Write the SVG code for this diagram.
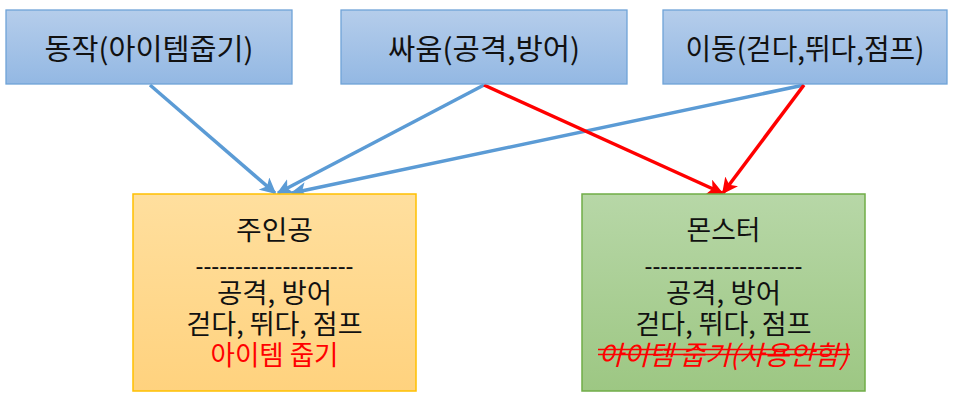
<svg xmlns="http://www.w3.org/2000/svg" width="954" height="403" viewBox="0 0 954 403">
  <defs>
    <linearGradient id="gBlue" x1="0" y1="0" x2="0" y2="1">
      <stop offset="0" stop-color="#b5cdeb"/>
      <stop offset="1" stop-color="#93b8e3"/>
    </linearGradient>
    <linearGradient id="gYellow" x1="0" y1="0" x2="0" y2="1">
      <stop offset="0" stop-color="#ffdf9e"/>
      <stop offset="1" stop-color="#ffd27e"/>
    </linearGradient>
    <linearGradient id="gGreen" x1="0" y1="0" x2="0" y2="1">
      <stop offset="0" stop-color="#b7d7a7"/>
      <stop offset="1" stop-color="#9dc783"/>
    </linearGradient>
    <marker id="arrBlue" viewBox="0 0 10 10" refX="9" refY="5" markerWidth="4.6" markerHeight="4.6" orient="auto" markerUnits="strokeWidth">
      <path d="M0,0 L10,5 L0,10 L2.5,5 Z" fill="#5b9bd5"/>
    </marker>
    <marker id="arrRed" viewBox="0 0 10 10" refX="9" refY="5" markerWidth="4.6" markerHeight="4.6" orient="auto" markerUnits="strokeWidth">
      <path d="M0,0 L10,5 L0,10 L2.5,5 Z" fill="#ff0000"/>
    </marker>
  </defs>
  <style>
    text { font-family: "Noto Sans CJK KR", "Noto Sans", sans-serif; fill: #111; text-anchor: middle; dominant-baseline: central; }
    .top { fill: url(#gBlue); stroke: #6fa3d8; stroke-width: 1.3; }
    .hero { fill: url(#gYellow); stroke: #ffc000; stroke-width: 1.5; }
    .mob { fill: url(#gGreen); stroke: #70ad47; stroke-width: 1.5; }
    .lbl { font-size: 29px; }
    .body { font-size: 27px; }
    .red { fill: #ff0000; }
    .blue { stroke: #5b9bd5; stroke-width: 3.5; fill: none; marker-end: url(#arrBlue); }
    .redl { stroke: #ff0000; stroke-width: 3.5; fill: none; marker-end: url(#arrRed); }
    .strike { stroke: #ff0000; stroke-width: 1.5; }
  </style>

  <g id="connectors">
    <line class="blue" x1="150" y1="85" x2="275" y2="193"/>
    <line class="blue" x1="484" y1="85" x2="278" y2="193"/>
    <line class="blue" x1="804" y1="85" x2="292" y2="193"/>
    <line class="redl" x1="484" y1="85" x2="722" y2="193"/>
    <line class="redl" x1="804" y1="85" x2="723" y2="193"/>
  </g>

  <g id="node-action">
    <rect class="top" x="6" y="10" width="286" height="74"/>
    <text class="lbl" x="149" y="47" textLength="209" lengthAdjust="spacingAndGlyphs">동작(아이템줍기)</text>
  </g>

  <g id="node-fight">
    <rect class="top" x="341" y="10" width="286" height="74"/>
    <text class="lbl" x="484" y="47" textLength="192" lengthAdjust="spacingAndGlyphs">싸움(공격,방어)</text>
  </g>

  <g id="node-move">
    <rect class="top" x="663" y="10" width="284" height="74"/>
    <text class="lbl" x="805" y="47" textLength="239" lengthAdjust="spacingAndGlyphs">이동(걷다,뛰다,점프)</text>
  </g>

  <g id="node-hero">
    <rect class="hero" x="133" y="194" width="283" height="197"/>
    <text class="body" x="274.5" y="228" textLength="77" lengthAdjust="spacingAndGlyphs">주인공</text>
    <text class="body" x="274.5" y="264" textLength="158" lengthAdjust="spacingAndGlyphs">--------------------</text>
    <text class="body" x="274.5" y="291" textLength="115" lengthAdjust="spacingAndGlyphs">공격, 방어</text>
    <text class="body" x="274.5" y="322" textLength="176" lengthAdjust="spacingAndGlyphs">걷다, 뛰다, 점프</text>
    <text class="body red" x="274.5" y="353" textLength="128" lengthAdjust="spacingAndGlyphs">아이템 줍기</text>
  </g>

  <g id="node-monster">
    <rect class="mob" x="582" y="194" width="283" height="197"/>
    <text class="body" x="723.5" y="228" textLength="74" lengthAdjust="spacingAndGlyphs">몬스터</text>
    <text class="body" x="723.5" y="264" textLength="158" lengthAdjust="spacingAndGlyphs">--------------------</text>
    <text class="body" x="723.5" y="291" textLength="115" lengthAdjust="spacingAndGlyphs">공격, 방어</text>
    <text class="body" x="723.5" y="322" textLength="176" lengthAdjust="spacingAndGlyphs">걷다, 뛰다, 점프</text>
    <text class="body red" x="723.5" y="353" font-style="italic" textLength="250" lengthAdjust="spacingAndGlyphs">아이템 줍기(사용안함)</text>
    <line class="strike" x1="598" y1="349.5" x2="850" y2="349.5"/>
    <line class="strike" x1="598" y1="354.5" x2="850" y2="354.5"/>
  </g>
</svg>
